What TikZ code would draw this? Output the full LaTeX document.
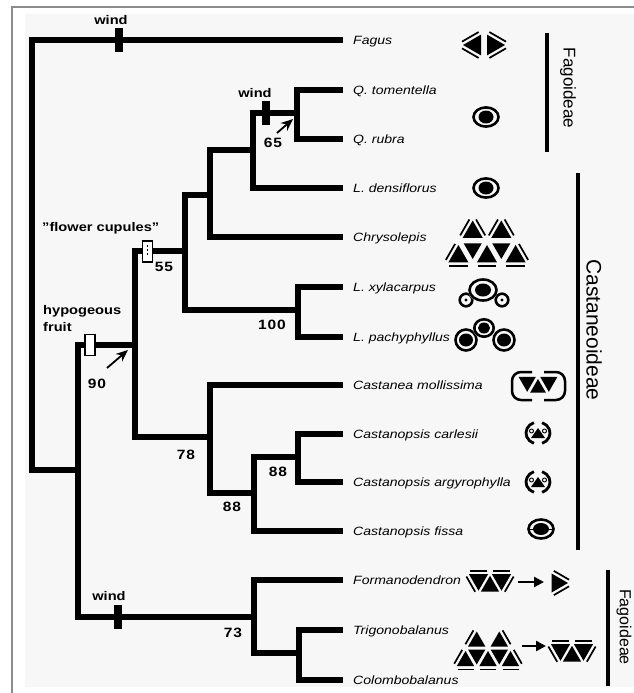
\documentclass[tikz,border=0pt]{standalone}
\usepackage{fontspec}
\setmainfont{Liberation Sans}[FakeStretch=1.17]
\newfontfamily\grpfont{Liberation Sans}
\newfontfamily\numfont{Liberation Sans}[FakeStretch=1.15,LetterSpace=6]
\usetikzlibrary{arrows.meta}

% a nut drawn as a black triangle, with loose cupule valves along chosen sides
\newcommand\cupnut[5]{%
  \begin{scope}[shift={(#1,#2)},yscale=-1,rotate=#3]
    \fill (90:#4) -- (210:#4) -- (330:#4) -- cycle;
    \foreach \sd in {#5}{%
      \draw[line width=1.7pt,rotate=\sd] ({#4/2+3.4},{-0.8*#4}) -- ({#4/2+3.4},{0.8*#4});}
  \end{scope}}
% a bare triangular nut
\newcommand\plainnut[4]{%
  \begin{scope}[shift={(#1,#2)},yscale=-1,rotate=#3]
    \fill (90:#4) -- (210:#4) -- (330:#4) -- cycle;
  \end{scope}}
% two inverted nuts around an upright one, valves outside
\newcommand\valverow[2]{%
  \cupnut{#1-11.5}{#2-3.3}{180}{11}{270,30}
  \cupnut{#1+11.5}{#2-3.3}{180}{11}{270,150}
  \plainnut{#1}{#2+3.3}{0}{10.5}}
% round nut in a closed cupule
\newcommand\ringnut[6]{%
  \draw[line width=3pt,white] (#1,#2) ellipse [x radius=#3, y radius=#4];
  \draw[line width=2.6pt] (#1,#2) ellipse [x radius=#3, y radius=#4];
  \fill (#1,#2) ellipse [x radius=#5, y radius=#6];}
% one triangular nut in a split cupule
\newcommand\splitcup[2]{%
  \begin{scope}[shift={(#1,#2)},yscale=-1]
    \draw[line width=2.8pt] (110:12 and 11) arc[start angle=110,end angle=250,x radius=12,y radius=11];
    \draw[line width=2.8pt] (-70:12 and 11) arc[start angle=-70,end angle=70,x radius=12,y radius=11];
    \fill (0,5) -- (-7,-5) -- (7,-5) -- cycle;
    \draw[line width=0.9pt] (-6.5,2) circle[radius=2];
    \draw[line width=0.9pt] (6.5,2) circle[radius=2];
  \end{scope}}

\tikzset{
  br/.style={line width=6.5pt},
  leaf/.style={anchor=west, inner sep=0pt, text height=9pt, text depth=0pt,
    font=\fontsize{12}{14}\selectfont\itshape},
  supp/.style={anchor=base, inner sep=0pt, font=\numfont\bfseries\fontsize{13.5}{16}\selectfont},
  trait/.style={inner sep=0pt, font=\bfseries\fontsize{12.5}{15}\selectfont},
  windbar/.style={fill=black, minimum width=8pt, minimum height=24pt, inner sep=0pt},
  openbox/.style={draw, fill=white, line width=1.3pt, minimum width=10pt, minimum height=21pt, inner sep=0pt},
  ptr/.style={line width=1.8pt, -{Stealth[length=12pt,width=10pt]}},
  cuparrow/.style={line width=2.4pt, -{Triangle[length=10pt,width=10pt]}},
  grp/.style={line width=4pt},
  grplabel/.style={rotate=-90, inner sep=0pt},
}

\begin{document}
\begin{tikzpicture}[x=1pt,y=1pt,yscale=-1]
\useasboundingbox (0,0) rectangle (634,693);
\fill[white] (0,0) rectangle (634,693);
\fill[black!3] (25,14) rectangle (634,687);
\draw[black!45,line width=1.2pt] (12,693) -- (12,7) -- (634,7);

% ---- taxa ----
\node[leaf] (fagus) at (353,40)  {Fagus};
\node[leaf] (qtom)  at (353,90)  {Q. tomentella};
\node[leaf] (qrub)  at (353,139) {Q. rubra};
\node[leaf] (lden)  at (353,188) {L. densiflorus};
\node[leaf] (chry)  at (353,237) {Chrysolepis};
\node[leaf] (lxyl)  at (353,287) {L. xylacarpus};
\node[leaf] (lpac)  at (353,337) {L. pachyphyllus};
\node[leaf] (cmol)  at (353,385) {Castanea mollissima};
\node[leaf] (ccar)  at (353,434) {Castanopsis carlesii};
\node[leaf] (carg)  at (353,482) {Castanopsis argyrophylla};
\node[leaf] (cfis)  at (353,531) {Castanopsis fissa};
\node[leaf] (form)  at (353,580) {Formanodendron};
\node[leaf] (trig)  at (353,630) {Trigonobalanus};
\node[leaf] (colo)  at (353,680) {Colombobalanus};

% ---- internal nodes ----
\coordinate (root) at (32,255);
\coordinate (hyp)  at (78,470);
\coordinate (n90)  at (135,345);
\coordinate (n55)  at (185,251);
\coordinate (nq)   at (210,195);
\coordinate (nqq)  at (253,150);
\coordinate (n65)  at (297,113);
\coordinate (n100) at (298,310);
\coordinate (n78)  at (210,437);
\coordinate (n88a) at (254,493);
\coordinate (n88b) at (298,457);
\coordinate (n73)  at (254,617);
\coordinate (ntc)  at (299,653);

% ---- branches ----
\begin{scope}[br]
\draw[shorten >=10pt] (root) |- (fagus.west);
\draw (root) |- (hyp);
\draw (hyp) |- (n90);
\draw (hyp) |- (n73);
\draw (n90) |- (n55);
\draw (n90) |- (n78);
\draw (n55) |- (nq);
\draw (n55) |- (n100);
\draw (nq) |- (nqq);
\draw[shorten >=10pt] (nq) |- (chry.west);
\draw (nqq) |- (n65);
\draw[shorten >=10pt] (nqq) |- (lden.west);
\draw[shorten >=10pt] (n65) |- (qtom.west);
\draw[shorten >=10pt] (n65) |- (qrub.west);
\draw[shorten >=10pt] (n100) |- (lxyl.west);
\draw[shorten >=10pt] (n100) |- (lpac.west);
\draw[shorten >=10pt] (n78) |- (cmol.west);
\draw (n78) |- (n88a);
\draw (n88a) |- (n88b);
\draw[shorten >=10pt] (n88a) |- (cfis.west);
\draw[shorten >=10pt] (n88b) |- (ccar.west);
\draw[shorten >=10pt] (n88b) |- (carg.west);
\draw[shorten >=10pt] (n73) |- (form.west);
\draw (n73) |- (ntc);
\draw[shorten >=10pt] (ntc) |- (trig.west);
\draw[shorten >=10pt] (ntc) |- (colo.west);
\end{scope}

% ---- character changes ----
\node[windbar] (w1) at (119,40) {};
\node[windbar] (w2) at (266,113) {};
\node[windbar] (w3) at (118,617) {};
\node[trait,anchor=base] (w1l) at (111,25) {wind};
\node[trait,anchor=base] (w2l) at (255,97) {wind};
\node[trait,anchor=base] (w3l) at (109,600) {wind};
\node[openbox] (hbox) at (90,345) {};
\node[openbox] (fbox) at (147.5,251.5) {};
\draw[line width=0.8pt,dash pattern=on 2pt off 2pt] (fbox.north) ++(0,5) -- ++(0,11);
\node[trait,anchor=base west] (fcl) at (42,231) {\char"0022flower cupules\char"0022};
\node[trait,anchor=base west] (hyl1) at (43,314) {hypogeous};
\node[trait,anchor=base west] (hyl2) at (43,331) {fruit};

% ---- support values ----
\node[supp] (s65)  at (273,147) {65};
\node[supp] (s55)  at (164,271) {55};
\node[supp] (s90)  at (97,388)  {90};
\node[supp] (s100) at (272,329) {100};
\node[supp] (s78)  at (186,459) {78};
\node[supp] (s88a) at (232,511) {88};
\node[supp] (s88b) at (278,476) {88};
\node[supp] (s73)  at (233,637) {73};
\coordinate (p90a) at (107,368);
\coordinate (p90b) at (128,350);
\coordinate (p65a) at (277,133);
\coordinate (p65b) at (293,119);
\draw[ptr] (p90a) -- (p90b);
\draw[ptr] (p65a) -- (p65b);

% ---- fruit and cupule sketches ----
\cupnut{475}{45}{90}{12}{30,150}
\cupnut{493}{45}{-90}{12}{30,150}
\ringnut{486}{117}{12.5}{9.6}{7.5}{6.5}
\ringnut{486}{188}{12.5}{9.6}{7.5}{6.5}
% Chrysolepis
\cupnut{472.7}{232}{0}{11.5}{30,150}
\cupnut{501.3}{232}{0}{11.5}{30,150}
\plainnut{472.7}{248.5}{180}{10.5}
\plainnut{501.3}{248.5}{180}{10.5}
\cupnut{458.4}{256.5}{0}{11.5}{150,270}
\cupnut{487}{256.5}{0}{11.5}{270}
\cupnut{515.6}{256.5}{0}{11.5}{30,270}
% L. xylacarpus
\ringnut{466}{300}{6.3}{6.3}{1.6}{1.6}
\ringnut{502}{300}{6.3}{6.3}{1.6}{1.6}
\ringnut{483}{290}{13.5}{10.5}{8}{6.5}
% L. pachyphyllus
\ringnut{466}{340}{10.5}{10.5}{7}{6.5}
\ringnut{504}{340}{10.5}{10.5}{7}{6.5}
\ringnut{484}{328}{9.7}{8.7}{6}{5.5}
% Castanea mollissima
\draw[line width=2.5pt,rounded corners=9pt] (532,372) -- (512,372) -- (512,400) -- (532,400);
\draw[line width=2.5pt,rounded corners=9pt] (544,372) -- (565,372) -- (565,400) -- (544,400);
\plainnut{527.2}{381.8}{180}{10}
\plainnut{548.8}{381.8}{180}{10}
\plainnut{538}{388}{0}{9}
% Castanopsis
\splitcup{538}{433}
\splitcup{538}{482}
\ringnut{541}{529}{12.5}{9.5}{8}{6}
\draw[line width=1pt] (528,529) -- (554,529);
% Formanodendron
\valverow{490}{583}
\coordinate (fa1) at (518,582);
\coordinate (fa2) at (544,582);
\draw[cuparrow] (fa1) -- (fa2);
\cupnut{557}{583}{-90}{11}{30,150}
% Trigonobalanus / Colombobalanus
\cupnut{465.5}{661}{0}{10}{150,270}
\cupnut{488}{661}{0}{10}{270}
\cupnut{510.5}{661}{0}{10}{30,270}
\plainnut{476.7}{654.5}{180}{10}
\plainnut{499.3}{654.5}{180}{10}
\cupnut{476.7}{641.5}{0}{10}{150}
\cupnut{499.3}{641.5}{0}{10}{30}
\coordinate (ta1) at (522,646);
\coordinate (ta2) at (546,646);
\draw[cuparrow] (ta1) -- (ta2);
\valverow{572}{653}

% ---- subfamilies ----
\coordinate (g1a) at (547,33);  \coordinate (g1b) at (547,152);
\coordinate (g2a) at (578,173); \coordinate (g2b) at (578,550);
\coordinate (g3a) at (608,570); \coordinate (g3b) at (608,686);
\draw[grp] (g1a) -- (g1b);
\draw[grp] (g2a) -- (g2b);
\draw[grp] (g3a) -- (g3b);
\node[grplabel,font=\grpfont\fontsize{17}{20}\selectfont] (fag1) at (568,88) {Fagoideae};
\node[grplabel,font=\grpfont\fontsize{21}{24}\selectfont] (cas) at (594,330) {Castaneoideae};
\node[grplabel,font=\grpfont\fontsize{16}{19}\selectfont] (fag2) at (624,627) {Fagoideae};
\end{tikzpicture}
\end{document}
